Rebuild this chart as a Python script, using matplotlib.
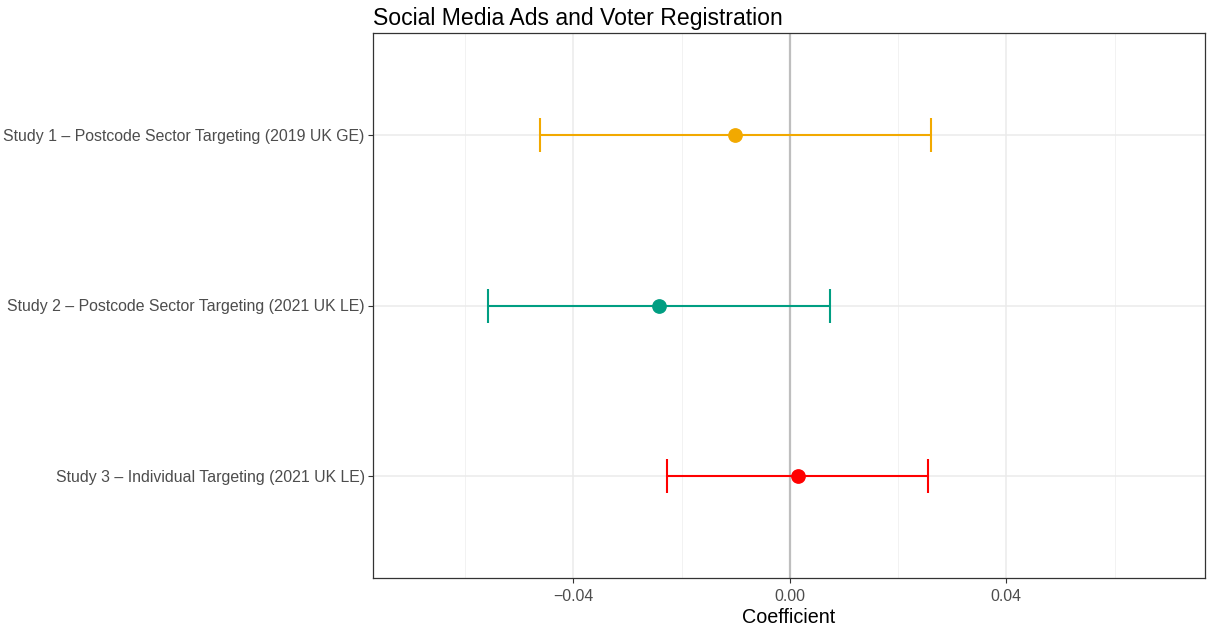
import matplotlib
matplotlib.use("Agg")
import matplotlib.pyplot as plt
from matplotlib.ticker import MultipleLocator, FuncFormatter

plt.rcParams["font.family"] = ["Liberation Sans", "DejaVu Sans"]

# Estimates and 95% confidence intervals per study
studies = [
    "Study 1 – Postcode Sector Targeting (2019 UK GE)",
    "Study 2 – Postcode Sector Targeting (2021 UK LE)",
    "Study 3 – Individual Targeting (2021 UK LE)",
]
estimates = [-0.0102, -0.0242, 0.0015]
ci_low = [-0.0461, -0.0557, -0.0227]
ci_high = [0.0261, 0.0074, 0.0255]
colors = ["#F2A900", "#009E82", "#FF0000"]

fig = plt.figure(figsize=(12.07, 6.26), dpi=100)
ax = fig.add_axes([373 / 1207, 1 - 578 / 626, (1205 - 373) / 1207, (578 - 33) / 626])

ypos = [1, 2, 3]
for y, est, lo, hi, c in zip(ypos, estimates, ci_low, ci_high, colors):
    ax.errorbar(est, y, xerr=[[est - lo], [hi - est]], fmt="o", color=c,
                ms=9.6, elinewidth=1.5, capsize=12, capthick=1.5, zorder=3)

ax.axvline(0, color="#BEBEBE", lw=1.6, zorder=2)

ax.set_xlim(-0.077, 0.0767)
ax.set_ylim(3.6, 0.4)
ax.set_yticks(ypos)
ax.set_yticklabels(studies)
ax.xaxis.set_major_locator(MultipleLocator(0.04))
ax.xaxis.set_minor_locator(MultipleLocator(0.02))
ax.xaxis.set_major_formatter(FuncFormatter(
    lambda v, p: f"{v:.2f}".replace("-", "\u2212")))

ax.grid(True, which="major", color="#EBEBEB", lw=1.1, zorder=0)
ax.grid(True, which="minor", axis="x", color="#F2F2F2", lw=0.7, zorder=0)
ax.set_axisbelow(True)
ax.tick_params(which="major", length=3.5, width=0.8, color="#333333",
               labelcolor="#4D4D4D", labelsize=11.45)
ax.tick_params(axis="x", pad=4.5)
ax.tick_params(axis="y", pad=2.5)
ax.tick_params(which="minor", length=0)
for s in ax.spines.values():
    s.set_color("#333333")
    s.set_linewidth(0.9)

ax.set_xlabel("Coefficient", fontsize=14.2, labelpad=2.5)
ax.set_title("Social Media Ads and Voter Registration", fontsize=16.6,
             loc="left", pad=6)

fig.savefig("out.png", dpi=100)
